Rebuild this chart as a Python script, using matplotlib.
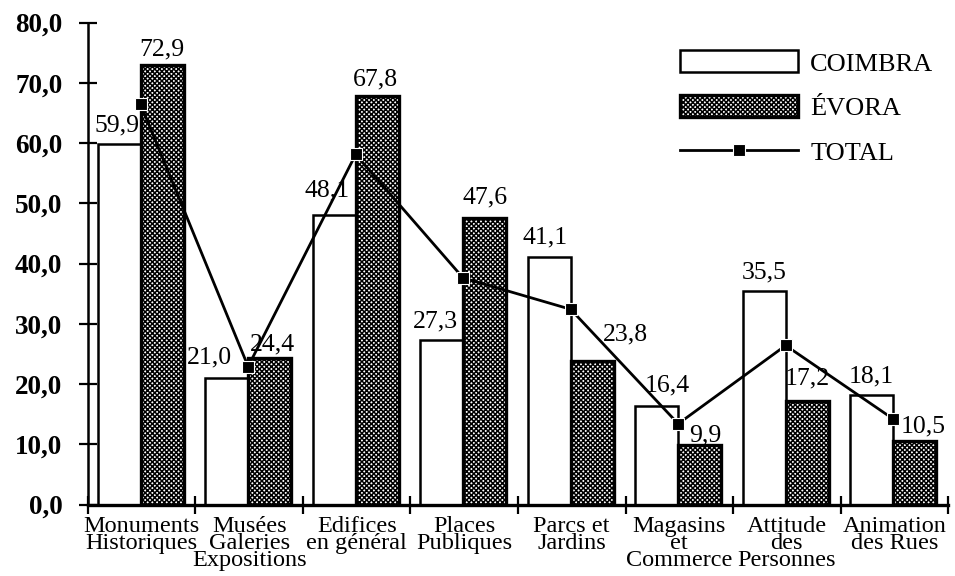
import numpy as np
from matplotlib import pyplot as plt

plt.rcParams['font.family'] = ['Liberation Serif', 'DejaVu Serif']
plt.rcParams['hatch.linewidth'] = 1.1

# data
categories = ['Monuments\nHistoriques', 'Musées\nGaleries\nExpositions', 'Edifices\nen général',
              'Places\nPubliques', 'Parcs et\nJardins', 'Magasins\net\nCommerce',
              'Attitude\ndes\nPersonnes', 'Animation\ndes Rues']
coimbra = [59.9, 21.0, 48.1, 27.3, 41.1, 16.4, 35.5, 18.1]
evora = [72.9, 24.4, 67.8, 47.6, 23.8, 9.9, 17.2, 10.5]
total = [66.4, 22.9, 58.1, 37.6, 32.4, 13.4, 26.4, 14.2]
yticks = [0, 10, 20, 30, 40, 50, 60, 70, 80]

# label nudges in pixels (dx, dy above bar top)
coimbra_off = [(-2, 12), (-17, 15), (-7, 18), (-6, 13), (-4, 13), (11, 14), (0, 12), (0, 13)]
evora_off = [(0, 10), (3, 7), (-2, 11), (0, 14), (33, 21), (6, 3), (0, 16), (8, 9)]


def fmt(v):
    return f"{v:.1f}".replace('.', ',')


fig = plt.figure(figsize=(9.55, 5.76), dpi=100)
ax = fig.add_axes([0.0921, 0.1241, 0.9006, 0.8368])

x = np.arange(len(categories))
w = 0.4
b1 = ax.bar(x - 0.21, coimbra, w, color='white', edgecolor='black', linewidth=1.8,
            zorder=2, label='COIMBRA')
b2 = ax.bar(x + 0.19, evora, w, color='white', edgecolor='black', linewidth=2.4,
            hatch='xxxxxxx', zorder=2, label='ÉVORA')
ln, = ax.plot(x - 0.01, total, color='black', linewidth=2.0, marker='s', markersize=9,
              markerfacecolor='black', markeredgecolor='white', markeredgewidth=0.8,
              zorder=3, label='TOTAL')

for i in range(len(categories)):
    dx, dy = coimbra_off[i]
    ax.annotate(fmt(coimbra[i]), xy=(x[i] - 0.21, coimbra[i]), xytext=(dx, dy),
                textcoords='offset pixels', ha='center', va='baseline', fontsize=18.5, zorder=4)
    dx, dy = evora_off[i]
    ax.annotate(fmt(evora[i]), xy=(x[i] + 0.19, evora[i]), xytext=(dx, dy),
                textcoords='offset pixels', ha='center', va='baseline', fontsize=18.5,
                zorder=1 if evora[i] < 12 else 4)

ax.set_xlim(-0.5, len(categories) - 0.5)
ax.set_ylim(0, 80)

# ticks at category boundaries, labels at centres
ax.set_xticks(np.arange(len(categories) + 1) - 0.5)
ax.set_xticklabels([])
ax.set_xticks(x, minor=True)
ax.set_xticklabels(categories, minor=True, fontsize=17.5, linespacing=0.76)
ax.tick_params(axis='x', which='major', direction='inout', length=13, width=1.6)
ax.tick_params(axis='x', which='minor', length=0, pad=8)

ax.set_yticks(yticks)
ax.set_yticklabels([fmt(v) for v in yticks], fontsize=19.5, fontweight='bold')
ax.tick_params(axis='y', direction='inout', length=13, width=1.6, pad=12)

for s in ['top', 'right']:
    ax.spines[s].set_visible(False)
ax.spines['left'].set_linewidth(1.8)
ax.spines['bottom'].set_linewidth(2.4)

ax.legend([b1, b2, ln], ['COIMBRA', 'ÉVORA', 'TOTAL'], loc='upper left',
          bbox_to_anchor=(0.688, 0.942), frameon=False, fontsize=19,
          handlelength=4.5, handleheight=0.9, handletextpad=0.45, labelspacing=0.75,
          borderpad=0, borderaxespad=0)

fig.savefig('out.png', dpi=100)
